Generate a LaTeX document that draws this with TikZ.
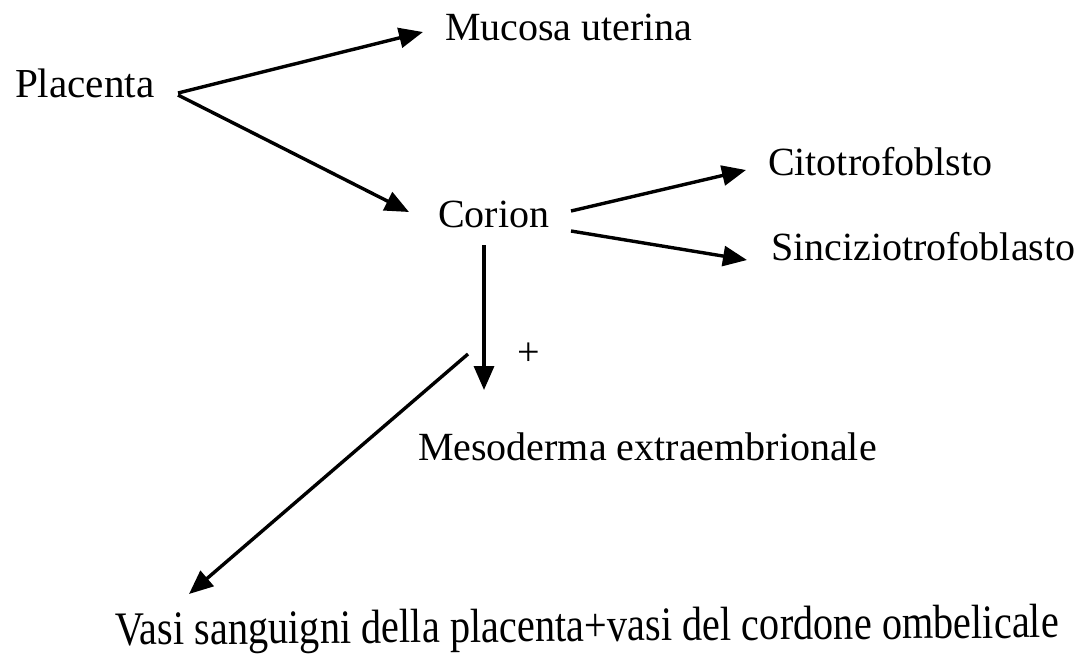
\documentclass[tikz,border=0pt]{standalone}
\usepackage{fontspec}
\usepackage{graphicx}
\setmainfont{Liberation Serif}
\usetikzlibrary{arrows.meta,calc}
\tikzset{
  lbl/.style={anchor=base west, inner sep=0pt, outer sep=0pt, font=\fontsize{20}{24}\selectfont},
  arr/.style={line width=1.7pt, -{Triangle[length=12pt,width=10pt]}}
}
\begin{document}
\begin{tikzpicture}[x=0.5pt,y=-0.5pt]
\useasboundingbox[fill=white] (0,0) rectangle (1080,660);
\node[lbl, font=\fontsize{20.6}{24}\selectfont] (plac) at (15,97) {Placenta};
\node[lbl] (muc) at (445,40) {Mucosa uterina};
\node[lbl] (cor) at (438,227) {Corion};
\node[lbl] (cito) at (768,175) {Citotrofoblsto};
\node[lbl] (sinc) at (771,260) {Sinciziotrofoblasto};
\node[lbl] (plus) at (517,365) {+};
\node[lbl] (meso) at (418,460) {Mesoderma extraembrionale};
\node[lbl, rotate=0.45, font=\fontsize{24}{28}\selectfont] (vasi) at (115,645) {\resizebox{472pt}{\height}{Vasi sanguigni della placenta+vasi del cordone ombelicale}};
\coordinate (dstart) at (468,354);
\draw[arr] ($(plac.base west)+(163,-4)$) -- ($(muc.base west)+(-22,-8)$);
\draw[arr] ($(plac.base west)+(163,-2)$) -- ($(cor.base west)+(-29,-15)$);
\draw[arr] ($(cor.base west)+(133,-16)$) -- ($(cito.base west)+(-22,-5)$);
\draw[arr] ($(cor.base west)+(133,4)$) -- ($(sinc.base west)+(-24,0)$);
\draw[arr] ($(cor.base west)+(46,18)$) -- ($(meso.base west)+(66,-70)$);
\draw[arr] (dstart) -- ($(vasi.base west)+(74,-51)$);
\end{tikzpicture}
\end{document}
